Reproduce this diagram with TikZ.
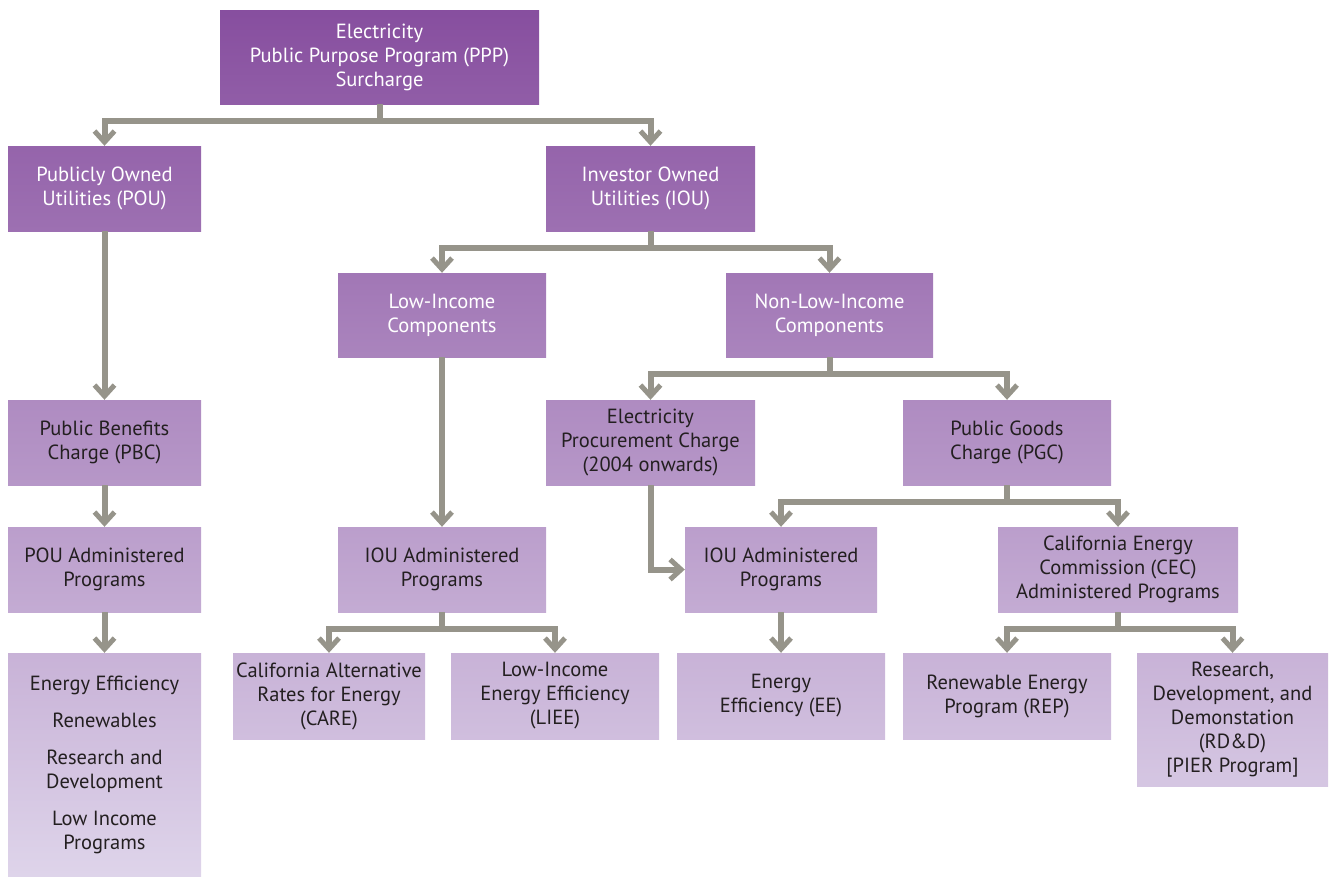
\documentclass[tikz,border=0pt]{standalone}
\usepackage{fontspec}
\setmainfont{PT Sans}
\usepackage{xcolor}
\usetikzlibrary{arrows.meta}
\definecolor{darkpurple}{RGB}{134,77,158}
\definecolor{lightpurple}{RGB}{222,212,234}
\definecolor{conngray}{RGB}{150,148,138}
\definecolor{darktext}{RGB}{35,31,32}
\tikzset{
  box/.style={rectangle,inner sep=0pt,align=center,font=\fontsize{20.5}{24}\selectfont},
  shade/.style 2 args={top color=lightpurple!#1!darkpurple,bottom color=lightpurple!#2!darkpurple},
  conn/.style={draw=conngray,line width=6pt,-{Straight Barb[length=11pt,width=20pt,line width=5pt]}}
}
\begin{document}
\begin{tikzpicture}[x=1pt,y=-1pt]
\useasboundingbox (0,0) rectangle (1329,876);
% top levels
\node[box,shade={1}{12},minimum width=319pt,minimum height=94pt,text=white](ppp)at(379.5,57){Electricity\\Public Purpose Program (PPP)\\Surcharge};
\node[box,shade={17}{26},minimum width=193pt,minimum height=85pt,text=white](pou)at(104.5,188.5){Publicly Owned\\Utilities (POU)};
\node[box,shade={17}{26},minimum width=209pt,minimum height=85pt,text=white](iou)at(650.5,188.5){Investor Owned\\Utilities (IOU)};
\node[box,shade={31}{41},minimum width=208pt,minimum height=84pt,text=white](lowinc)at(442,315){Low-Income\\Components};
\node[box,shade={31}{41},minimum width=207pt,minimum height=84pt,text=white](nonlow)at(829.5,315){Non-Low-Income\\Components};
% charges
\node[box,shade={46}{55},minimum width=193pt,minimum height=85pt,text=darktext](pbc)at(104.5,442.5){Public Benefits\\Charge (PBC)};
\node[box,shade={46}{55},minimum width=209pt,minimum height=85pt,text=darktext](epc)at(650.5,442.5){Electricity\\Procurement Charge\\(2004 onwards)};
\node[box,shade={46}{55},minimum width=208pt,minimum height=85pt,text=darktext](pgc)at(1007,442.5){Public Goods\\Charge (PGC)};
% administrators
\node[box,shade={60}{70},minimum width=193pt,minimum height=85pt,text=darktext](pouadm)at(104.5,569.5){POU Administered\\Programs};
\node[box,shade={60}{70},minimum width=208pt,minimum height=85pt,text=darktext](iouadma)at(442,569.5){IOU Administered\\Programs};
\node[box,shade={60}{70},minimum width=192pt,minimum height=85pt,text=darktext](iouadmb)at(781,569.5){IOU Administered\\Programs};
\node[box,shade={60}{70},minimum width=240pt,minimum height=85pt,text=darktext](cec)at(1118,569.5){California Energy\\Commission (CEC)\\Administered Programs};
% programs
\node[box,shade={75}{100},minimum width=193pt,minimum height=223pt,text=darktext](poulist)at(104.5,764.5){Energy Efficiency\\[13pt]Renewables\\[13pt]Research and\\Development\\[13pt]Low Income\\Programs};
\node[box,shade={75}{84},minimum width=192pt,minimum height=86pt,text=darktext](care)at(329,696){California Alternative\\Rates for Energy\\(CARE)};
\node[box,shade={75}{84},minimum width=208pt,minimum height=86pt,text=darktext](liee)at(555,696){Low-Income\\Energy Efficiency\\(LIEE)};
\node[box,shade={75}{84},minimum width=208pt,minimum height=86pt,text=darktext](ee)at(781,696){Energy\\Efficiency (EE)};
\node[box,shade={75}{84},minimum width=208pt,minimum height=86pt,text=darktext](rep)at(1007,696){Renewable Energy\\Program (REP)};
\node[box,shade={75}{90},minimum width=191pt,minimum height=133pt,text=darktext](rdd)at(1232.5,719.5){Research,\\Development, and\\Demonstation\\(RD\&D)\\{[PIER Program]}};
% connectors
\draw[conn](ppp.south)--++(0,17)-|(pou.north);
\draw[conn](ppp.south)--++(0,17)-|(iou.north);
\draw[conn](iou.south)--++(0,17)-|(lowinc.north);
\draw[conn](iou.south)--++(0,17)-|(nonlow.north);
\draw[conn](nonlow.south)--++(0,17)-|(epc.north);
\draw[conn](nonlow.south)--++(0,17)-|(pgc.north);
\draw[conn](pgc.south)--++(0,17)-|(iouadmb.north);
\draw[conn](pgc.south)--++(0,17)-|(cec.north);
\draw[conn](cec.south)--++(0,17)-|(rep.north);
\draw[conn](cec.south)--++(0,17)-|(rdd.north);
\draw[conn](iouadma.south)--++(0,17)-|(care.north);
\draw[conn](iouadma.south)--++(0,17)-|(liee.north);
\draw[conn](epc.south)|-(iouadmb.west);
\draw[conn](pou)--(pbc);
\draw[conn](pbc)--(pouadm);
\draw[conn](pouadm)--(poulist);
\draw[conn](lowinc)--(iouadma);
\draw[conn](iouadmb)--(ee);
\end{tikzpicture}
\end{document}
